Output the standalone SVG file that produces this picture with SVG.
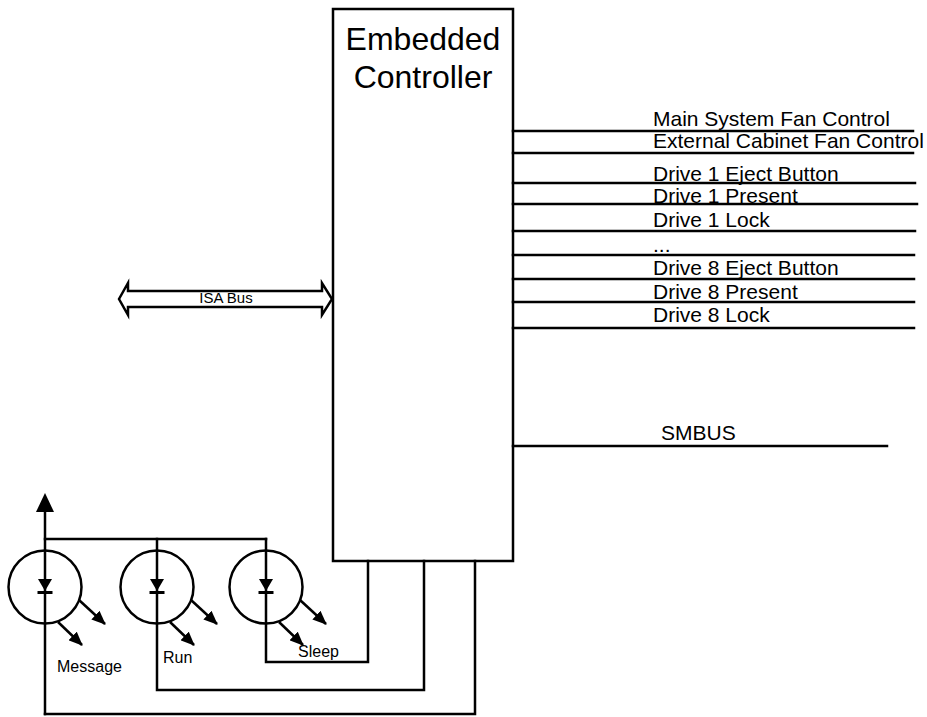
<svg xmlns="http://www.w3.org/2000/svg" width="927" height="717" viewBox="0 0 927 717">
  <style>
    .ln { stroke: #000; stroke-width: 2.5; fill: none; stroke-linecap: square; }
    .box { stroke: #000; stroke-width: 2.5; fill: #fff; }
    .led { stroke: #000; stroke-width: 2.5; fill: none; }
    .t { font-family: "Liberation Sans", Arial, Helvetica, sans-serif; fill: #000; }
    .sig { font-size: 21px; }
    .small { font-size: 16px; }
    .title { font-size: 32px; text-anchor: middle; }
    .light { stroke: #000; stroke-width: 2.5; fill: none; marker-end: url(#ah); }
  </style>
  <defs>
    <marker id="ah" viewBox="0 0 14 12" refX="13" refY="6" markerWidth="14" markerHeight="12" markerUnits="userSpaceOnUse" orient="auto">
      <path d="M0,0 L14,6 L0,12 Z" fill="#000"/>
    </marker>
    <g id="diode">
      <circle cx="0" cy="0" r="36.5" class="led"/>
      <path d="M-7,-8 L7,-8 L0,4 Z" fill="#000"/>
      <line x1="-7.5" y1="5.5" x2="7.5" y2="5.5" stroke="#000" stroke-width="3"/>
      <line x1="34" y1="13" x2="60" y2="37" class="light"/>
      <line x1="13" y1="35" x2="37" y2="58" class="light"/>
    </g>
  </defs>
  <rect width="927" height="717" fill="#fff"/>

  <g id="controller">
    <rect x="333" y="9" width="180" height="552" class="box"/>
    <text x="423" y="50" class="t title">Embedded</text>
    <text x="423" y="88" class="t title">Controller</text>
  </g>

  <g id="led-message">
    <use href="#diode" x="45" y="587"/>
    <text x="57" y="672" class="t small">Message</text>
  </g>
  <g id="led-run">
    <use href="#diode" x="157" y="587"/>
    <text x="163" y="663" class="t small">Run</text>
  </g>
  <g id="led-sleep">
    <use href="#diode" x="266" y="587"/>
    <text x="298" y="657" class="t small">Sleep</text>
  </g>

  <g id="connectors">
    <!-- ISA bus double arrow -->
    <polygon points="119,299 128,283 128,291 322,291 322,283 332,299 322,315 322,307 128,307 128,315" stroke="#000" stroke-width="2.5" fill="#fff" stroke-linejoin="miter"/>
    <!-- signal lines -->
    <line x1="513" y1="131" x2="913" y2="131" class="ln"/>
    <line x1="513" y1="153" x2="913" y2="153" class="ln"/>
    <line x1="513" y1="183" x2="915" y2="183" class="ln"/>
    <line x1="513" y1="204" x2="917" y2="204" class="ln"/>
    <line x1="513" y1="231" x2="915" y2="231" class="ln"/>
    <line x1="513" y1="255" x2="914" y2="255" class="ln"/>
    <line x1="513" y1="279" x2="914" y2="279" class="ln"/>
    <line x1="513" y1="302" x2="914" y2="302" class="ln"/>
    <line x1="513" y1="328" x2="914" y2="328" class="ln"/>
    <line x1="513" y1="446" x2="887" y2="446" class="ln"/>
    <!-- LED wiring -->
    <line x1="45" y1="714" x2="45" y2="510" class="ln"/>
    <polygon points="45,493 36,512 54,512" fill="#000"/>
    <polyline points="45,539 266,539" class="ln"/>
    <polyline points="157,539 157,690 424,690 424,561" class="ln"/>
    <polyline points="266,539 266,662 368,662 368,561" class="ln"/>
    <polyline points="45,714 475,714 475,561" class="ln"/>
  </g>

  <g id="labels">
    <text x="226" y="303" class="t" font-size="15" text-anchor="middle">ISA Bus</text>
    <text x="653" y="126" class="t sig">Main System Fan Control</text>
    <text x="653" y="148" class="t sig">External Cabinet Fan Control</text>
    <text x="653" y="181" class="t sig">Drive 1 Eject Button</text>
    <text x="653" y="203" class="t sig">Drive 1 Present</text>
    <text x="653" y="227" class="t sig">Drive 1 Lock</text>
    <text x="653" y="252" class="t sig">...</text>
    <text x="653" y="275" class="t sig">Drive 8 Eject Button</text>
    <text x="653" y="299" class="t sig">Drive 8 Present</text>
    <text x="653" y="322" class="t sig">Drive 8 Lock</text>
    <text x="661" y="440" class="t sig">SMBUS</text>
  </g>
</svg>
